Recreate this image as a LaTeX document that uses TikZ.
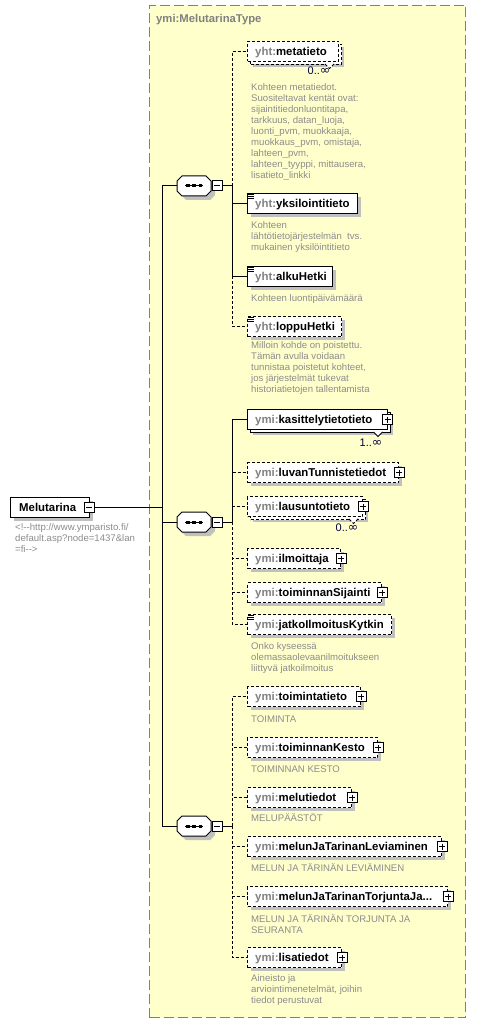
\documentclass[tikz,border=0pt]{standalone}
\usepackage{fontspec}
\setmainfont{Liberation Sans}
\newfontfamily\djv{DejaVu Sans}
\usetikzlibrary{calc}
\definecolor{ybg}{RGB}{255,255,204}
\definecolor{bgray}{RGB}{128,128,128}
\definecolor{pfx}{RGB}{128,128,128}
\definecolor{dgray}{RGB}{140,140,140}
\definecolor{shgray}{RGB}{192,192,192}
\definecolor{mcol}{RGB}{0,0,64}
\newcommand\efont{\fontsize{11.4}{14}\selectfont}
\newcommand\dfont{\fontsize{9.6}{11}\selectfont}
\newcommand\infy{{\djv\fontsize{12.5}{12}\selectfont ∞}}
\tikzset{
  el/.style={draw=black, fill=white, line width=1pt, minimum height=20, inner sep=0, anchor=north west},
  opt/.style={dash pattern=on 3pt off 2pt},
  lbl/.style={anchor=base west, inner sep=0, font=\efont\bfseries},
  dsc/.style={anchor=north west, inner sep=0, align=left, font=\dfont, text=dgray, execute at begin node=\strut},
  mult/.style={inner sep=0, font=\fontsize{11}{12}\selectfont, text=mcol},
  shd/.style={fill=shgray, draw=none},
  conn/.style={line width=1pt},
  pbox/.style={draw=black, fill=white, line width=1pt, minimum size=10, inner sep=0,
    path picture={\draw[line width=1pt] ([xshift=2]path picture bounding box.west) -- ([xshift=-2]path picture bounding box.east)
      ([yshift=-2]path picture bounding box.north) -- ([yshift=2]path picture bounding box.south);}},
  mbox/.style={draw=black, fill=white, line width=1pt, minimum size=10, inner sep=0,
    path picture={\draw[line width=1pt] ([xshift=2]path picture bounding box.west) -- ([xshift=-2]path picture bounding box.east);}},
  seqb/.style={minimum width=34, minimum height=20, inner sep=0, draw=none},
  tbox/.style={draw=bgray, fill=ybg, line width=1pt, dash pattern=on 10pt off 4pt, inner sep=0, anchor=north west},
}
% element macros
\newcommand\elem[6]{%
  \pgfmathsetmacro\elw{#3-247}%
  \fill[shd] (251,#2+4) rectangle (#3+4,#2+24);
  \node[el,#4,minimum width=\elw] (#1) at (247,#2) {};
  \node[lbl] (#1-t) at (255,#2+14.2) {\textcolor{pfx}{#5:}#6};
}
\newcommand\elemm[6]{%
  \pgfmathsetmacro\elw{#3-247}%
  \fill[shd] (253,#2+6) rectangle (#3+6,#2+26);
  \node[el,#4,minimum width=\elw] (#1-b) at (250,#2+3) {};
  \filldraw[fill=white,line width=1pt,#4] (#3-13,#2+23) -- (#3-8.5,#2+27.5) -- (#3-4,#2+23);
  \node[el,#4,minimum width=\elw] (#1) at (247,#2) {};
  \node[lbl] (#1-t) at (255,#2+14.2) {\textcolor{pfx}{#5:}#6};
}
\newcommand\plusat[1]{\node[pbox] (#1-p) at (#1.east) {};}
\newcommand\iconat[1]{%
  \draw[line width=0.9pt] ($(#1.north west)+(1,1.2)$) -- ++(6,0)
    ($(#1.north west)+(1,3.2)$) -- ++(6,0)
    ($(#1.north west)+(1,5.2)$) -- ++(6,0);}
\newcommand\seqn[2]{%
  \fill[shd] (181,#2-1) -- (186,#2-6) -- (210,#2-6) -- (215,#2-1) -- (215,#2+9) -- (210,#2+14) -- (186,#2+14) -- (181,#2+9) -- cycle;
  \node[seqb] (#1) at (194,#2) {};
  \filldraw[fill=white,line width=1pt] (177,#2-5) -- (182,#2-10) -- (206,#2-10) -- (211,#2-5) -- (211,#2+5) -- (206,#2+10) -- (182,#2+10) -- (177,#2+5) -- cycle;
  \draw[line width=1pt] (185,#2) -- (203,#2);
  \fill (186,#2-1.5) rectangle (189.5,#2+1.5);
  \fill (192.3,#2-1.5) rectangle (195.8,#2+1.5);
  \fill (198.6,#2-1.5) rectangle (202.1,#2+1.5);
  \node[mbox] (#1-m) at (217,#2) {};
}
\begin{document}
\begin{tikzpicture}[x=1pt,y=-1pt]
\useasboundingbox (0,0) rectangle (476,1024);
\fill[white] (0,0) rectangle (476,1024);
% type box
\node[tbox, minimum width=316, minimum height=1012] (type) at (149,5) {};
\node[anchor=base west, inner sep=0, font=\fontsize{11.3}{13}\selectfont\bfseries, text=pfx] (type-l) at (156,23) {ymi:MelutarinaType};

% root element
\fill[shd] (14,501) rectangle (93,521);
\node[el, minimum width=79] (mel) at (10,497) {};
\node[lbl] (mel-t) at (19,511.2) {Melutarina};
\node[mbox] (mel-m) at (89,507) {};
\node[dsc] (mel-d) at (15,528-4.4) {<!-{}-http://www.ymparisto.fi/\\default.asp?node=1437\&lan\\=fi-{}->};

% sequences
\seqn{s1}{186}
\seqn{s2}{522}
\seqn{s3}{826}

% group 1
\elemm{meta}{41}{338}{opt}{yht}{metatieto}
\node[mult] (meta-n) at (319,71) {0..\infy};
\node[dsc] (meta-d) at (251,88-4.4) {Kohteen metatiedot.\\Suositeltavat kentät ovat:\\sijaintitiedonluontitapa,\\tarkkuus, datan\_luoja,\\luonti\_pvm, muokkaaja,\\muokkaus\_pvm, omistaja,\\lahteen\_pvm,\\lahteen\_tyyppi, mittausera,\\lisatieto\_linkki};
\elem{yks}{193}{357}{solid}{yht}{yksilointitieto}
\iconat{yks}
\node[dsc] (yks-d) at (251,226-4.4) {Kohteen\\lähtötietojärjestelmän\ \ tvs.\\mukainen yksilöintitieto};
\elem{alku}{266}{332}{solid}{yht}{alkuHetki}
\iconat{alku}
\node[dsc] (alku-d) at (251,298-4.4) {Kohteen luontipäivämäärä};
\elem{loppu}{316}{341}{opt}{yht}{loppuHetki}
\iconat{loppu}
\node[dsc] (loppu-d) at (251,346-4.4) {Milloin kohde on poistettu.\\Tämän avulla voidaan\\tunnistaa poistetut kohteet,\\jos järjestelmät tukevat\\historiatietojen tallentamista};

% group 2
\elemm{kas}{409}{386.5}{solid}{ymi}{kasittelytietotieto}
\plusat{kas}
\node[mult] (kas-n) at (371,443) {1..\infy};
\elem{luvan}{462}{398}{opt}{ymi}{luvanTunnistetiedot}
\plusat{luvan}
\elemm{laus}{496}{362}{opt}{ymi}{lausuntotieto}
\plusat{laus}
\node[mult] (laus-n) at (347,528) {0..\infy};
\elem{ilm}{548}{340}{opt}{ymi}{ilmoittaja}
\plusat{ilm}
\elem{sij}{582}{381}{opt}{ymi}{toiminnanSijainti}
\plusat{sij}
\elem{jatko}{614}{391}{opt}{ymi}{jatkoIlmoitusKytkin}
\iconat{jatko}
\node[dsc] (jatko-d) at (251,647-4.4) {Onko kyseessä\\olemassaolevaanilmoitukseen\\liittyvä jatkoilmoitus};

% group 3
\elem{toim}{686}{360}{opt}{ymi}{toimintatieto}
\plusat{toim}
\node[dsc] (toim-d) at (251,719-4.4) {TOIMINTA};
\elem{kesto}{737}{377}{opt}{ymi}{toiminnanKesto}
\plusat{kesto}
\node[dsc] (kesto-d) at (251,769-4.4) {TOIMINNAN KESTO};
\elem{melu}{787}{351}{opt}{ymi}{melutiedot}
\plusat{melu}
\node[dsc] (melu-d) at (251,818-4.4) {MELUPÄÄSTÖT};
\elem{lev}{836}{441}{opt}{ymi}{melunJaTarinanLeviaminen}
\plusat{lev}
\node[dsc] (lev-d) at (251,868-4.4) {MELUN JA TÄRINÄN LEVIÄMINEN};
\elem{torj}{886}{447}{opt}{ymi}{melunJaTarinanTorjuntaJa...}
\plusat{torj}
\node[dsc] (torj-d) at (251,919-4.4) {MELUN JA TÄRINÄN TORJUNTA JA\\SEURANTA};
\elem{lisa}{947}{341}{opt}{ymi}{lisatiedot}
\plusat{lisa}
\node[dsc] (lisa-d) at (251,979-4.4) {Aineisto ja\\arviointimenetelmät, joihin\\tiedot perustuvat};

% connectors
\coordinate (j) at (162,507);
\coordinate (t1) at (162,186);
\coordinate (t3) at (162,826);
\coordinate (b1) at (232,186);
\coordinate (b2) at (232,522);
\coordinate (b3) at (232,826);
\draw[conn] (mel-m.east) -- (j);
\draw[conn] (t1) -- (t3);
\draw[conn] (t1) -- (s1.west);
\draw[conn] (s2.west -| t1) -- (s2.west);
\draw[conn] (t3) -- (s3.west);
\draw[conn] (s1-m.east) -- (b1);
\draw[conn] (s2-m.east) -- (b2);
\draw[conn] (s3-m.east) -- (b3);
% group 1
\draw[conn,opt] (b1) |- (meta.west);
\draw[conn,opt] (b1) |- (loppu.west);
\draw[conn] (b1) |- (yks.west);
\draw[conn] (b1) |- (alku.west);
% group 2
\foreach \n in {luvan,laus,ilm,sij,jatko} {\draw[conn,opt] (b2) |- (\n.west);}
\draw[conn] (b2) |- (kas.west);
% group 3
\foreach \n in {toim,kesto,melu,lev,torj,lisa} {\draw[conn,opt] (b3) |- (\n.west);}
\end{tikzpicture}
\end{document}
